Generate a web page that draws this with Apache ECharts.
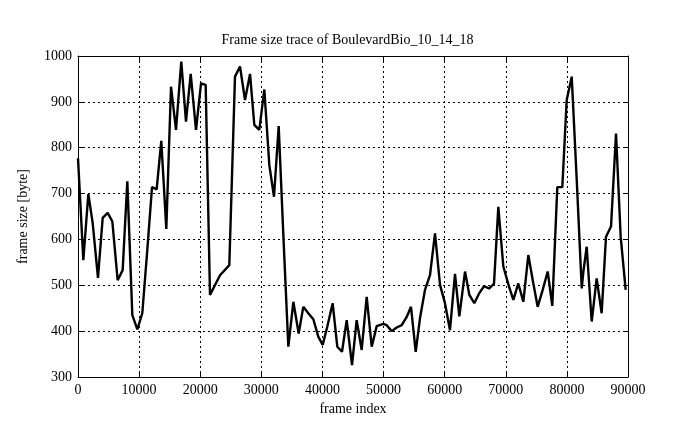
<!DOCTYPE html>
<html><head><meta charset="utf-8">
<script src="https://cdn.jsdelivr.net/npm/echarts@6/dist/echarts.min.js"></script>
<style>html,body{margin:0;padding:0;background:#fff}#c{width:695px;height:429px}</style>
</head><body><div id="c"></div>
<script>
const titleText = "Frame size trace of BoulevardBio_10_14_18";
const xName = "frame index";
const yName = "frame size [byte]";
const frames = [0,870,1690,2400,3270,4040,4860,5620,6490,7310,8070,8890,9710,10520,11340,12110,12870,13630,14450,15220,16040,16900,17670,18440,19310,20130,20890,21600,23240,24760,25690,26510,27330,28150,28850,29670,30490,31310,32070,32840,33600,34420,35240,36110,36870,37690,38510,39320,40040,40800,41670,42430,43200,43970,44840,45600,46420,47240,48060,48880,49960,50510,51330,52150,52970,53790,54490,55260,55960,56780,57600,58420,59240,60050,60870,61690,62400,63330,64040,64850,65670,66440,67250,68070,68780,69600,70530,71240,72050,72870,73690,74510,75220,76040,76860,77610,78430,79250,79970,80790,81610,82430,82700,83240,84060,84870,85690,86400,87220,88040,88800,89620];
const sizes = [777,555,699,636,516,647,658,639,511,533,727,435,404,439,577,714,709,815,623,933,839,988,857,961,839,940,937,479,522,544,955,977,904,961,850,839,927,762,693,847,610,366,464,395,453,439,426,388,370,410,461,366,355,424,326,424,359,475,366,411,416,413,400,408,413,431,453,355,428,490,522,613,501,461,402,525,432,530,479,461,483,498,493,503,671,541,497,468,504,464,566,504,453,490,530,455,714,714,904,955,730,493,530,584,421,515,439,606,628,831,606,490];
const xTicks = [0,10000,20000,30000,40000,50000,60000,70000,80000,90000];
const yTicks = [300,400,500,600,700,800,900,1000];

const font = "Liberation Serif";
const chart = echarts.init(document.getElementById('c'));
const grid = {left:78, right:67, top:56, bottom:52};
const split = {show:true, lineStyle:{color:'#000', type:[2,3], width:1}};
chart.setOption({
  animation:false,
  title:{text:titleText, left:'center', top:28, textStyle:{fontFamily:font, fontSize:14, fontWeight:'normal', color:'#000'}},
  grid: grid,
  xAxis:[{type:'value', min:xTicks[0], max:xTicks[xTicks.length-1], interval:10000, position:'bottom',
    name:xName, nameLocation:'middle', nameGap:22, nameTextStyle:{fontFamily:font, fontSize:14, color:'#000'},
    axisLine:{show:true, onZero:false, lineStyle:{color:'#000', width:1}},
    axisTick:{show:true, inside:true, length:5, lineStyle:{color:'#000'}},
    axisLabel:{fontFamily:font, fontSize:14, color:'#000', margin:6, formatter:v=>String(v)},
    splitLine:split},
   {type:'value', min:xTicks[0], max:xTicks[xTicks.length-1], interval:10000, position:'top',
    axisLine:{show:true, onZero:false, lineStyle:{color:'#000', width:1}},
    axisTick:{show:true, inside:true, length:5, lineStyle:{color:'#000'}},
    axisLabel:{show:false}, splitLine:{show:false}}],
  yAxis:[{type:'value', min:yTicks[0], max:yTicks[yTicks.length-1], interval:100, position:'left',
    name:yName, nameLocation:'middle', nameGap:48, nameRotate:90, nameTextStyle:{fontFamily:font, fontSize:14, color:'#000'},
    axisLine:{show:true, onZero:false, lineStyle:{color:'#000', width:1}},
    axisTick:{show:true, inside:true, length:5, lineStyle:{color:'#000'}},
    axisLabel:{fontFamily:font, fontSize:14, color:'#000', margin:6, formatter:v=>String(v)},
    splitLine:split},
   {type:'value', min:yTicks[0], max:yTicks[yTicks.length-1], interval:100, position:'right',
    axisLine:{show:true, onZero:false, lineStyle:{color:'#000', width:1}},
    axisTick:{show:true, inside:true, length:5, lineStyle:{color:'#000'}},
    axisLabel:{show:false}, splitLine:{show:false}}],
  series:[{type:'line', xAxisIndex:0, yAxisIndex:0, showSymbol:false, symbol:'none',
    lineStyle:{color:'#000', width:2.4}, data:frames.map((f,i)=>[f,sizes[i]])}]
});
</script></body></html>
